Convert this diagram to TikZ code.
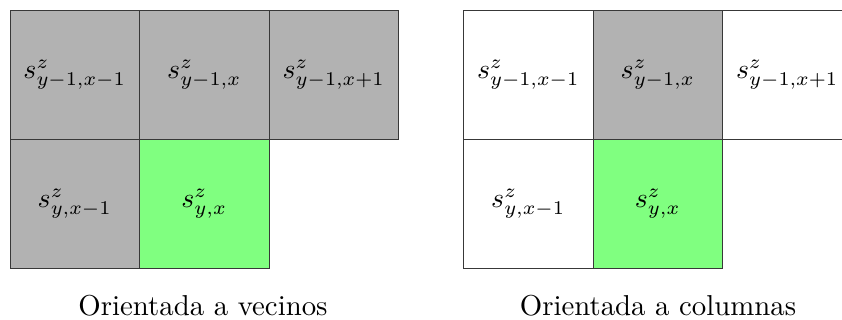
\documentclass[tikz,border=0pt]{standalone}
\begin{document}
\begin{tikzpicture}[x=1pt,y=-1pt,
  cell/.style={draw=black!78, line width=0.9pt, scale=2.78, minimum width=129.5pt/2.78, minimum height=129pt/2.78, inner sep=0pt, outer sep=0pt, font=\fontsize{10}{12}\selectfont},
  grayc/.style={cell, fill=black!30},
  greenc/.style={cell, fill=green!50},
  whitec/.style={cell, fill=white},
  caption/.style={font=\fontsize{10}{12}\selectfont, scale=2.88, inner sep=0pt, anchor=base}]
\useasboundingbox (0,0) rectangle (842,320);
\clip (0,0) rectangle (842,320);
% left grid
\node[grayc] (l11) at (74.75,74.5) {$s^z_{y-1,x-1}$};
\node[grayc] (l12) at (204.25,74.5) {$s^z_{y-1,x}$};
\node[grayc] (l13) at (333.75,74.5) {$s^z_{y-1,x+1}$};
\node[grayc] (l21) at (74.75,203.5) {$s^z_{y,x-1}$};
\node[greenc] (l22) at (204.25,203.5) {$s^z_{y,x}$};
% right grid
\node[whitec] (r11) at (528.25,74.5) {$s^z_{y-1,x-1}$};
\node[grayc] (r12) at (657.75,74.5) {$s^z_{y-1,x}$};
\node[whitec] (r13) at (787.25,74.5) {$s^z_{y-1,x+1}$};
\node[whitec] (r21) at (528.25,203.5) {$s^z_{y,x-1}$};
\node[greenc] (r22) at (657.75,203.5) {$s^z_{y,x}$};
% captions
\node[caption] (cl) at (203,315) {Orientada a vecinos};
\node[caption] (cr) at (658,315) {Orientada a columnas};
\end{tikzpicture}
\end{document}
